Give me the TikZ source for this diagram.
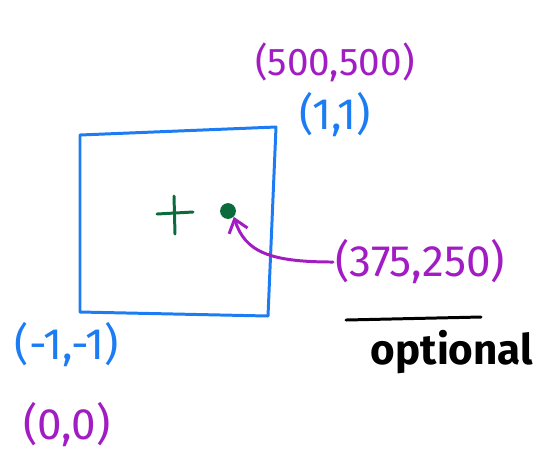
\documentclass[tikz,border=0pt]{standalone}
\usepackage{fontspec}
\setmainfont{Fira Sans}
\usepackage{tikz}
\usetikzlibrary{arrows.meta, positioning}

\definecolor{boxblue}{HTML}{1C7CF4}
\definecolor{labpurple}{HTML}{A21CC4}
\definecolor{ptgreen}{HTML}{0B6B3C}

\begin{document}
\begin{tikzpicture}[
    x=0.02cm, y=-0.02cm,
    pen/.style={line width=1.7pt, line cap=round, line join=round},
    lab/.style={inner sep=1pt, font=\fontsize{25}{28}\selectfont},
    bluelab/.style={lab, text=boxblue},
    purplelab/.style={lab, text=labpurple},
    conn/.style={pen, draw=labpurple, -{Straight Barb[length=7pt, width=11pt, line width=1.7pt]}},
]
\useasboundingbox (0,0) rectangle (540,458);

% Square
\draw[pen, draw=boxblue] (80,135) -- (276,127) -- (268,316) -- (80,312) -- cycle;

% Centre and point
\draw[pen, draw=ptgreen] (157,214) -- (193,212) (174,196) -- (175,234);
\node[circle, fill=ptgreen, inner sep=0pt, minimum size=9pt] (dot) at (228,211) {};

% Corner labels
\node[purplelab, font=\fontsize{22}{26}\selectfont] (tr) at (335,62) {(500,500)};
\node[bluelab] (trn) at (335,115) {(1,1)};
\node[bluelab] (bln) at (67,345) {(-1,-1)};
\node[purplelab] (bl) at (67,425) {(0,0)};

% Point label
\node[purplelab] (pt) at (420,262) {(375,250)};
\draw[conn] (pt.west) .. controls (270,262) and (245,252) .. (dot.south east);

% Optional
\coordinate (ruleL) at (346,320);
\coordinate (ruleR) at (481,317);
\draw[pen] (ruleL) -- (ruleR);
\node[lab, font=\fontsize{24}{28}\selectfont\bfseries] (opt) at (452,352) {optional};

\end{tikzpicture}
\end{document}
